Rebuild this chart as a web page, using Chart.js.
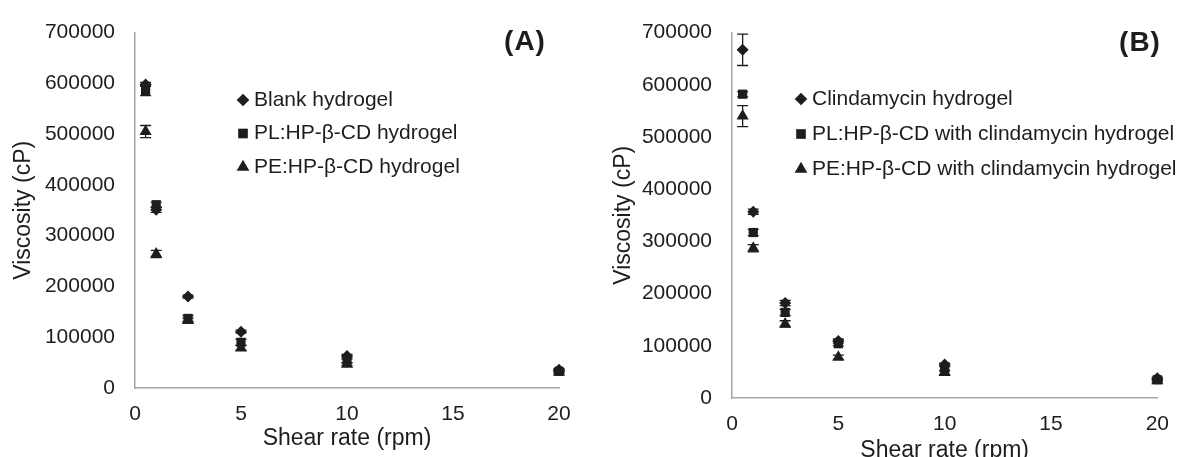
<!DOCTYPE html>
<html>
<head>
<meta charset="utf-8">
<script src="https://cdn.jsdelivr.net/npm/chart.js@4.4.1/dist/chart.umd.min.js"></script>
<style>
  body { margin: 0; background: #fff; width: 1183px; height: 457px; overflow: hidden; position: relative; }
  canvas { position: absolute; top: 0; }
</style>
</head>
<body>
<canvas id="chartA" width="590" height="457" style="left:0"></canvas>
<canvas id="chartB" width="593" height="457" style="left:590px"></canvas>
<script>
const shearRate = [0.5, 1, 2.5, 5, 10, 20];
const xTicks = [0, 5, 10, 15, 20];
const yTicks = [0, 100000, 200000, 300000, 400000, 500000, 600000, 700000];

// panel A
const blankHydrogel = [598000, 351000, 180000, 111000, 63000, 36000];
const blankErr = [4000, 5000, 3000, 3000, 3000, 2000];
const plHydrogel = [586000, 361000, 137000, 90000, 53000, 33000];
const plErr = [10000, 5000, 6000, 6000, 4000, 2000];
const peHydrogel = [505000, 264000, 133000, 79000, 47000, 31000];
const peErr = [12000, 7000, 5000, 5000, 3000, 2000];

// panel B
const clindaHydrogel = [667000, 357000, 182000, 109000, 64000, 38000];
const clindaErr = [30000, 5000, 5000, 4000, 3000, 2000];
const plClinda = [582000, 317000, 164000, 104000, 56000, 35000];
const plClindaErr = [5000, 6000, 6000, 4000, 4000, 2000];
const peClinda = [540000, 287000, 142000, 78000, 49000, 33000];
const peClindaErr = [20000, 7000, 6000, 4000, 4000, 2000];

const FONT = "'Liberation Sans', Arial, sans-serif";
const INK = '#1f1c1d';
const AXIS = '#a6a6a6';

function series(label, values, errs, style, radius) {
  return {
    label: label,
    data: values.map((v, i) => ({ x: shearRate[i], y: v })),
    errors: errs,
    showLine: false,
    clip: false,
    pointStyle: style,
    pointRadius: radius,
    pointHoverRadius: radius,
    pointBackgroundColor: INK,
    pointBorderColor: INK,
    pointBorderWidth: 0,
  };
}

// vertical error bars with caps
const errorBars = {
  id: 'errorBars',
  beforeDatasetsDraw(chart) {
    const ctx = chart.ctx;
    const ys = chart.scales.y;
    ctx.save();
    ctx.strokeStyle = INK;
    ctx.lineWidth = 1.3;
    chart.data.datasets.forEach((ds, di) => {
      const meta = chart.getDatasetMeta(di);
      ds.data.forEach((p, i) => {
        const e = ds.errors[i];
        if (!e) return;
        const x = meta.data[i].x;
        const y1 = ys.getPixelForValue(p.y - e);
        const y2 = ys.getPixelForValue(p.y + e);
        ctx.beginPath();
        ctx.moveTo(x, y1); ctx.lineTo(x, y2);
        ctx.moveTo(x - 5.5, y1); ctx.lineTo(x + 5.5, y1);
        ctx.moveTo(x - 5.5, y2); ctx.lineTo(x + 5.5, y2);
        ctx.stroke();
      });
    });
    ctx.restore();
  }
};

// legend inside plot + panel letter
const insideLegend = {
  id: 'insideLegend',
  afterDraw(chart, args, o) {
    const ctx = chart.ctx;
    ctx.save();
    ctx.font = '21px ' + FONT;
    ctx.fillStyle = INK;
    ctx.textBaseline = 'middle';
    ctx.textAlign = 'left';
    chart.data.datasets.forEach((ds, i) => {
      const y = o.y + i * o.gap;
      ctx.fillStyle = INK;
      ctx.strokeStyle = INK;
      ctx.lineWidth = 0;
      Chart.helpers.drawPoint(ctx, { pointStyle: ds.pointStyle, radius: ds.pointRadius * 1.05, borderWidth: 0 }, o.x, y);
      ctx.fillText(ds.label, o.textX, y);
    });
    ctx.font = 'bold 28px ' + FONT;
    ctx.letterSpacing = '1px';
    ctx.textAlign = 'center';
    ctx.fillText(o.tag, o.tagX, o.tagY);
    ctx.restore();
  }
};

function makeChart(id, datasets, lay) {
  return new Chart(document.getElementById(id).getContext('2d'), {
    type: 'scatter',
    data: { datasets: datasets },
    plugins: [errorBars, insideLegend],
    options: {
      responsive: false,
      animation: false,
      events: [],
      layout: { padding: { left: 0, right: lay.right, top: 28, bottom: 0 } },
      plugins: {
        legend: { display: false },
        tooltip: { enabled: false },
        insideLegend: lay.legend,
      },
      scales: {
        x: {
          type: 'linear', min: 0, max: 20,
          afterFit: s => { s.height = lay.xHeight; },
          afterBuildTicks: s => { s.ticks = xTicks.map(v => ({ value: v })); },
          grid: { display: false, drawTicks: false },
          border: { color: AXIS, width: 1.5 },
          ticks: { color: INK, padding: 14, font: { family: FONT, size: 21 }, maxRotation: 0 },
          title: { display: true, text: 'Shear rate (rpm)', color: INK,
                   font: { family: FONT, size: 23 }, padding: { top: 0, bottom: lay.xTitlePad } },
        },
        y: {
          type: 'linear', min: 0, max: 700000,
          afterFit: s => { s.width = lay.yWidth; },
          afterBuildTicks: s => { s.ticks = yTicks.map(v => ({ value: v })); },
          grid: { display: false, drawTicks: false },
          border: { color: AXIS, width: 1.5 },
          ticks: { color: INK, padding: 20, font: { family: FONT, size: 21 }, callback: v => String(v) },
          title: { display: true, text: 'Viscosity (cP)', color: INK,
                   font: { family: FONT, size: 23 }, padding: { top: lay.yTitlePad, bottom: 0 } },
        },
      },
    },
  });
}

makeChart('chartA', [
  series('Blank hydrogel', blankHydrogel, blankErr, 'rectRot', 6),
  series('PL:HP-β-CD hydrogel', plHydrogel, plErr, 'rect', 6.5),
  series('PE:HP-β-CD hydrogel', peHydrogel, peErr, 'triangle', 7),
], {
  right: 31, yWidth: 135, xHeight: 69, xTitlePad: 5, yTitlePad: 10,
  legend: { x: 243, y: 100, gap: 33.5, textX: 254, tag: '(A)', tagX: 525, tagY: 42 },
});

makeChart('chartB', [
  series('Clindamycin hydrogel', clindaHydrogel, clindaErr, 'rectRot', 6),
  series('PL:HP-β-CD with clindamycin hydrogel', plClinda, plClindaErr, 'rect', 6.5),
  series('PE:HP-β-CD with clindamycin hydrogel', peClinda, peClindaErr, 'triangle', 7),
], {
  right: 15, yWidth: 142, xHeight: 59, xTitlePad: -7, yTitlePad: 20,
  legend: { x: 211, y: 99, gap: 35, textX: 222, tag: '(B)', tagX: 550, tagY: 43 },
});
</script>
</body>
</html>
